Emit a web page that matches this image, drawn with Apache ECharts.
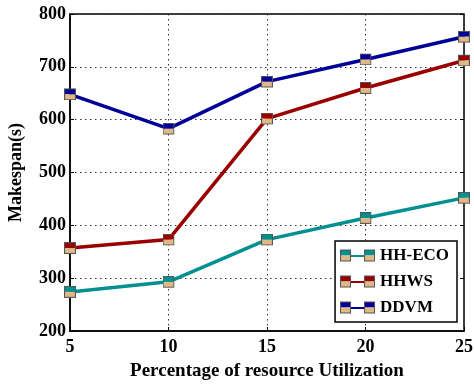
<!DOCTYPE html>
<html><head><meta charset="utf-8">
<script src="https://cdn.jsdelivr.net/npm/echarts@6/dist/echarts.min.js"></script>
<style>html,body{margin:0;padding:0;background:#fff}#c{width:474px;height:385px}</style>
</head><body><div id="c"></div>
<script>
const categories = [5, 10, 15, 20, 25];
const hhEco = [274, 293, 373, 414, 452];
const hhws = [357, 373, 602, 660, 712];
const ddvm = [648, 583, 672, 714, 757];
const seriesNames = ['HH-ECO', 'HHWS', 'DDVM'];
const colors = ['#009090', '#9a0000', '#000099'];
const tan = '#deb887';

function markerSvg(c) {
  const s = '<svg xmlns="http://www.w3.org/2000/svg" width="22" height="22" viewBox="0 0 22 22">' +
    '<rect x="1" y="1" width="20" height="10" fill="' + c + '"/>' +
    '<rect x="1" y="11" width="20" height="10" fill="' + tan + '"/>' +
    '<rect x="1" y="1" width="20" height="20" fill="none" stroke="#555" stroke-width="2"/></svg>';
  return 'image://data:image/svg+xml;charset=utf-8,' + encodeURIComponent(s);
}
function legendSvg(c) {
  const s = '<svg xmlns="http://www.w3.org/2000/svg" width="70" height="26" viewBox="0 0 70 26">' +
    '<line x1="20" y1="14" x2="50" y2="14" stroke="' + c + '" stroke-width="4"/>' +
    '<rect x="1" y="2" width="20" height="11" fill="' + c + '"/><rect x="1" y="13" width="20" height="11" fill="' + tan + '"/>' +
    '<rect x="1" y="2" width="20" height="22" fill="none" stroke="#555" stroke-width="2"/>' +
    '<rect x="49" y="2" width="20" height="11" fill="' + c + '"/><rect x="49" y="13" width="20" height="11" fill="' + tan + '"/>' +
    '<rect x="49" y="2" width="20" height="22" fill="none" stroke="#555" stroke-width="2"/></svg>';
  return 'image://data:image/svg+xml;charset=utf-8,' + encodeURIComponent(s);
}

const dataSets = [hhEco, hhws, ddvm];
const font = 'Liberation Serif';
const chart = echarts.init(document.getElementById('c'));
chart.setOption({
  animation: false,
  grid: { left: 70, right: 10, top: 14, bottom: 54, show: true, borderColor: '#000', borderWidth: 1.5,
          containLabel: false, outerBoundsMode: 'none' },
  xAxis: [{
    type: 'value', min: 5, max: 25, interval: 5,
    axisLine: { show: true, lineStyle: { color: '#000', width: 1.5 } },
    axisTick: { inside: true, length: 4, lineStyle: { color: '#000' } },
    axisLabel: { color: '#000', fontFamily: font, fontWeight: 'bold', fontSize: 18, margin: 7 },
    splitLine: { show: true, lineStyle: { color: '#333', type: [1.5, 3.5], width: 1 } },
    name: 'Percentage of resource Utilization', nameLocation: 'middle', nameGap: 31,
    nameTextStyle: { color: '#000', fontFamily: font, fontWeight: 'bold', fontSize: 19 }
  }],
  yAxis: [{
    type: 'value', min: 200, max: 800, interval: 100,
    axisLine: { show: true, lineStyle: { color: '#000', width: 1.5 } },
    axisTick: { inside: true, length: 4, lineStyle: { color: '#000' } },
    axisLabel: { color: '#000', fontFamily: font, fontWeight: 'bold', fontSize: 18, margin: 4 },
    splitLine: { show: true, lineStyle: { color: '#333', type: [1.5, 3.5], width: 1 } },
    name: 'Makespan(s)', nameLocation: 'middle', nameGap: 45, nameRotate: 90,
    nameTextStyle: { color: '#000', fontFamily: font, fontWeight: 'bold', fontSize: 18 }
  }, {
    type: 'value', min: 200, max: 800, interval: 100, position: 'right',
    axisLine: { show: false }, axisLabel: { show: false }, splitLine: { show: false },
    axisTick: { show: true, inside: true, length: 4, lineStyle: { color: '#000' } }
  }],
  legend: {
    orient: 'vertical', right: 17, top: 241, itemGap: 9, itemWidth: 35, itemHeight: 13,
    backgroundColor: '#fff', borderColor: '#000', borderWidth: 1.5, padding: [6, 8, 6, 5],
    textStyle: { color: '#000', fontFamily: font, fontWeight: 'bold', fontSize: 17 },
    data: seriesNames.map((n, i) => ({ name: n, icon: legendSvg(colors[i]) }))
  },
  series: seriesNames.map((n, i) => ({
    name: n, type: 'line',
    data: categories.map((x, j) => [x, dataSets[i][j]]),
    lineStyle: { color: colors[i], width: 3.5 },
    itemStyle: { color: colors[i] },
    symbol: markerSvg(colors[i]), symbolSize: 12, z: 2 + i
  }))
});
</script></body></html>
